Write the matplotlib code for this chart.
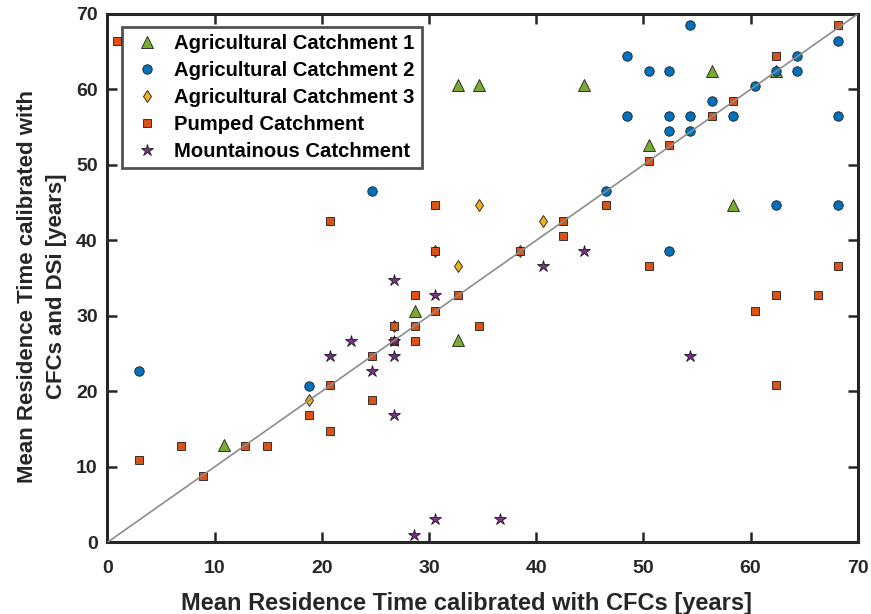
import matplotlib.pyplot as plt
import numpy as np

plt.rcParams['font.family'] = ['Liberation Sans', 'DejaVu Sans']
plt.rcParams['font.weight'] = 'bold'

# Agricultural Catchment 1
ag1_x = [10.9, 32.7, 34.7, 44.5, 56.4, 50.5, 58.4, 32.7, 28.7, 62.4]
ag1_y = [12.9, 60.6, 60.6, 60.6, 62.5, 52.7, 44.7, 26.8, 30.7, 62.4]

# Agricultural Catchment 2
ag2_x = [54.4, 48.5, 50.5, 52.4, 60.4, 62.4, 64.3, 64.3, 68.2, 56.4, 48.5, 52.4,
         54.4, 58.4, 68.2, 52.4, 54.4, 46.5, 62.4, 68.2, 52.4, 24.7, 2.97, 18.8]
ag2_y = [68.5, 64.5, 62.4, 62.4, 60.5, 62.4, 64.5, 62.4, 66.4, 58.5, 56.5, 56.5,
         56.5, 56.5, 56.5, 54.5, 54.5, 46.5, 44.7, 44.7, 38.6, 46.6, 22.7, 20.7]

# Agricultural Catchment 3
ag3_x = [34.7, 40.6, 32.7, 18.8, 30.6, 38.5, 26.7]
ag3_y = [44.7, 42.6, 36.6, 18.8, 38.6, 38.6, 28.7]

# Pumped Catchment
pump_x = [0.9, 68.2, 62.4, 58.4, 56.4, 52.4, 50.5, 46.5, 30.6, 42.5, 42.5, 30.6, 38.5,
          50.5, 68.2, 32.7, 62.4, 66.3, 30.6, 34.7, 60.4, 62.4, 20.8, 28.7, 26.7, 28.7,
          28.7, 24.7, 20.8, 24.7, 18.8, 20.8, 2.97, 6.9, 12.8, 14.9, 8.9, 26.7]
pump_y = [66.4, 68.5, 64.5, 58.5, 56.5, 52.6, 50.5, 44.7, 44.7, 42.6, 40.6, 38.6, 38.6,
          36.6, 36.6, 32.7, 32.7, 32.7, 30.7, 28.7, 30.7, 20.8, 42.6, 32.7, 28.7, 28.7,
          26.7, 24.7, 20.8, 18.8, 16.8, 14.8, 10.9, 12.8, 12.8, 12.8, 8.8, 26.7]

# Mountainous Catchment
mnt_x = [30.6, 40.6, 44.5, 54.4, 26.7, 22.7, 26.7, 20.8, 26.7, 24.7, 26.7, 28.6, 30.6, 36.6]
mnt_y = [32.7, 36.6, 38.6, 24.7, 34.7, 26.7, 26.7, 24.7, 24.7, 22.7, 16.8, 1.0, 3.1, 3.1]

txt = '#262626'

fig = plt.figure(figsize=(8.71, 6.14), dpi=100)
ax = fig.add_axes([0.1234, 0.1168, 0.8613, 0.8604])

ek = dict(linestyle='none', markeredgecolor='#1a1a1a', markeredgewidth=0.6)
ax.plot(ag1_x, ag1_y, '^', color='#77AC30', markersize=8, label='Agricultural Catchment 1', **ek)
ax.plot(ag2_x, ag2_y, 'o', color='#0072BD', markersize=6.8, label='Agricultural Catchment 2', **ek)
ax.plot(ag3_x, ag3_y, 'd', color='#EDB120', markersize=6.4, label='Agricultural Catchment 3', **ek)
ax.plot(pump_x, pump_y, 's', color='#D95319', markersize=6, label='Pumped Catchment', **ek)
ax.plot(mnt_x, mnt_y, '*', color='#7E2F8E', markersize=9, label='Mountainous Catchment', **ek)

ax.plot([0, 70], [0, 70], color='#8c8c8c', linewidth=1.2, zorder=5)

ax.set_xlim(0, 70)
ax.set_ylim(0, 70)
ax.set_xticks(np.arange(0, 71, 10))
ax.set_yticks(np.arange(0, 71, 10))
ax.tick_params(direction='in', length=7, width=1.8, top=True, right=True,
               labelsize=14, colors=txt)
ax.tick_params(axis='x', pad=13)
ax.tick_params(axis='y', pad=7)
for lab in ax.get_xticklabels() + ax.get_yticklabels():
    lab.set_fontweight('bold')
for s in ax.spines.values():
    s.set_linewidth(2.2)
    s.set_color(txt)

ax.set_xlabel('Mean Residence Time calibrated with CFCs [years]', fontsize=17,
              fontweight='bold', color=txt)
ax.xaxis.set_label_coords(0.479, -0.095)
ax.set_ylabel('Mean Residence Time calibrated with\nCFCs and DSi [years]', fontsize=16,
              fontweight='bold', color=txt, linespacing=1.5)
ax.yaxis.set_label_coords(-0.054, 0.485)

leg = ax.legend(loc='upper left', bbox_to_anchor=(0.019, 0.976), fontsize=14.6,
                frameon=True, fancybox=False, borderpad=0.35, labelspacing=0.4,
                handletextpad=0.45, handlelength=1.8, borderaxespad=0)
leg.get_frame().set_edgecolor(txt)
leg.get_frame().set_linewidth(2.0)
for t in leg.get_texts():
    t.set_color('black')

fig.savefig('out.png', dpi=100)
